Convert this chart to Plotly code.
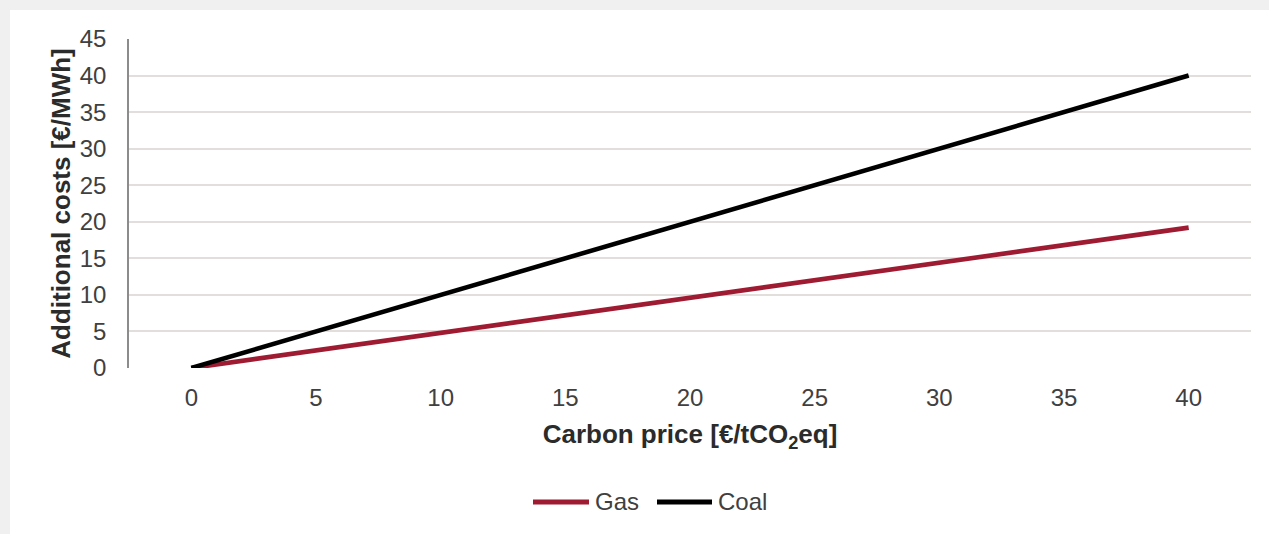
import plotly.graph_objects as go

carbon_price = [0, 5, 10, 15, 20, 25, 30, 35, 40]
gas_costs = [0, 2.4, 4.8, 7.2, 9.6, 12.0, 14.4, 16.8, 19.2]
coal_costs = [0, 5, 10, 15, 20, 25, 30, 35, 40]
x_ticks = [0, 5, 10, 15, 20, 25, 30, 35, 40]
y_ticks = [0, 5, 10, 15, 20, 25, 30, 35, 40, 45]
series_names = ["Gas", "Coal"]
series_colors = ["#9E1B32", "#000000"]

FONT = "Liberation Sans, Arial, sans-serif"
TXT = "#404040"
TITLE = "#2b2b2b"

W, H = 1269, 534
L, R, T, B = 129, 18, 39, 166
pw, ph = W - L - R, H - T - B


def px_x(p):
    return (p - L) / pw


def px_y(p):
    return 1 - (p - T) / ph


fig = go.Figure()
for name, vals, col in zip(series_names, [gas_costs, coal_costs], series_colors):
    fig.add_trace(go.Scatter(x=carbon_price, y=vals, mode="lines", name=name,
                             line=dict(color=col, width=4.6), showlegend=False))

# white panel on light grey page
fig.add_shape(type="rect", xref="paper", yref="paper", layer="below",
              x0=px_x(10), x1=px_x(W + 5), y0=px_y(H + 5), y1=px_y(10),
              fillcolor="white", line=dict(width=0))

# legend drawn manually to match the long line keys
legend_items = [(533, 589, 593), (657, 712, 716)]
for (x0, x1, xt), name, col in zip(legend_items, series_names, series_colors):
    fig.add_shape(type="line", xref="paper", yref="paper",
                  x0=px_x(x0), x1=px_x(x1), y0=px_y(502), y1=px_y(502),
                  line=dict(color=col, width=5))
    fig.add_annotation(xref="paper", yref="paper", x=px_x(xt), y=px_y(502),
                       text=name, showarrow=False, xanchor="left",
                       yanchor="middle", font=dict(size=24, color=TXT))

fig.update_layout(
    width=W, height=H,
    margin=dict(l=L, r=R, t=T, b=B),
    paper_bgcolor="#f0f0f0", plot_bgcolor="white",
    font=dict(family=FONT, size=24, color=TXT),
    showlegend=False,
    xaxis=dict(range=[-2.5, 42.5], tickvals=x_ticks, showgrid=False,
               zeroline=False, showline=False, ticks="outside", ticklen=8,
               tickcolor="rgba(0,0,0,0)", tickfont=dict(size=24, color=TXT),
               title=dict(text="<b>Carbon price [€/tCO<sub>2</sub>eq]</b>",
                          font=dict(size=26, color=TITLE), standoff=15)),
    yaxis=dict(range=[0, 45], tickvals=y_ticks, showgrid=True,
               gridcolor="#e2dedb", gridwidth=1.6, zeroline=False,
               showline=True, linecolor="#8c8c8c", linewidth=1.5,
               ticks="outside", ticklen=16, tickcolor="rgba(0,0,0,0)",
               tickfont=dict(size=24, color=TXT),
               title=dict(text="<b>Additional costs [€/MWh]</b>",
                          font=dict(size=26, color=TITLE), standoff=2)),
)
fig.write_html("out.html", config={"displayModeBar": False},
               post_script="document.body.style.margin='0';")
